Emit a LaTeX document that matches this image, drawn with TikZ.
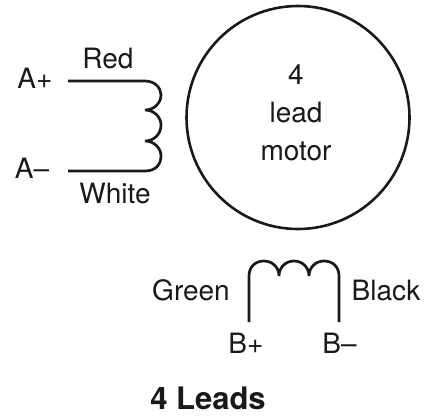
\documentclass[tikz,border=0pt]{standalone}
\usepackage{fontspec}
\setmainfont{TeX Gyre Heros}
\tikzset{
  lbl/.style={inner sep=0pt,anchor=base,text=black!90,font=\fontsize{28}{32}\selectfont},
  wire/.style={line width=2.7pt,black!90,line cap=butt},
}
\begin{document}
\begin{tikzpicture}[x=1pt,y=-1pt]
\useasboundingbox (0,0) rectangle (425,416);
\node[draw=black!90,line width=2.6pt,circle,minimum size=223pt,inner sep=0pt] (motor) at (298,117.5) {};
\node[inner sep=0pt,text=black!90,align=center,font=\fontsize{28}{38}\selectfont] (mtxt) at (296,113) {4\\lead\\motor};
\coordinate (a1) at (68,81);
\coordinate (a2) at (145,81);
\coordinate (a3) at (145,110);
\coordinate (a4) at (145,141);
\coordinate (a5) at (145,171);
\coordinate (a6) at (68,171);
\draw[wire] (a1) -- (a2)
  .. controls (155,81) and (161,88) .. (161,95)
  .. controls (161,103) and (154,110) .. (a3)
  .. controls (154,110) and (161,117) .. (161,125)
  .. controls (161,134) and (154,141) .. (a4)
  .. controls (154,141) and (161,148) .. (161,156)
  .. controls (161,165) and (155,171) .. (a5) -- (a6);
\coordinate (b1) at (249,322);
\coordinate (b2) at (279,276);
\coordinate (b3) at (309,276);
\coordinate (b4) at (339,322);
\draw[wire] (b1) -- (249,276)
  .. controls (249,267) and (255,261) .. (264,261)
  .. controls (272,261) and (279,267) .. (b2)
  .. controls (279,267) and (286,261) .. (294,261)
  .. controls (302,261) and (309,267) .. (b3)
  .. controls (309,267) and (316,261) .. (324,261)
  .. controls (333,261) and (339,267) .. (339,276) -- (b4);
\node[lbl] (red) at (108,68) {Red};
\node[lbl] (white) at (115,203) {White};
\node[lbl] (ap) at (35,88) {A+};
\node[lbl] (am) at (32,178) {A–};
\node[lbl] (green) at (191,300) {Green};
\node[lbl] (black) at (386,300) {Black};
\node[lbl] (bp) at (246,353) {B+};
\node[lbl] (bm) at (339.5,353) {B–};
\node[lbl,font=\fontsize{31}{31}\selectfont\bfseries] (title) at (208,409.5) {4 Leads};
\end{tikzpicture}
\end{document}
